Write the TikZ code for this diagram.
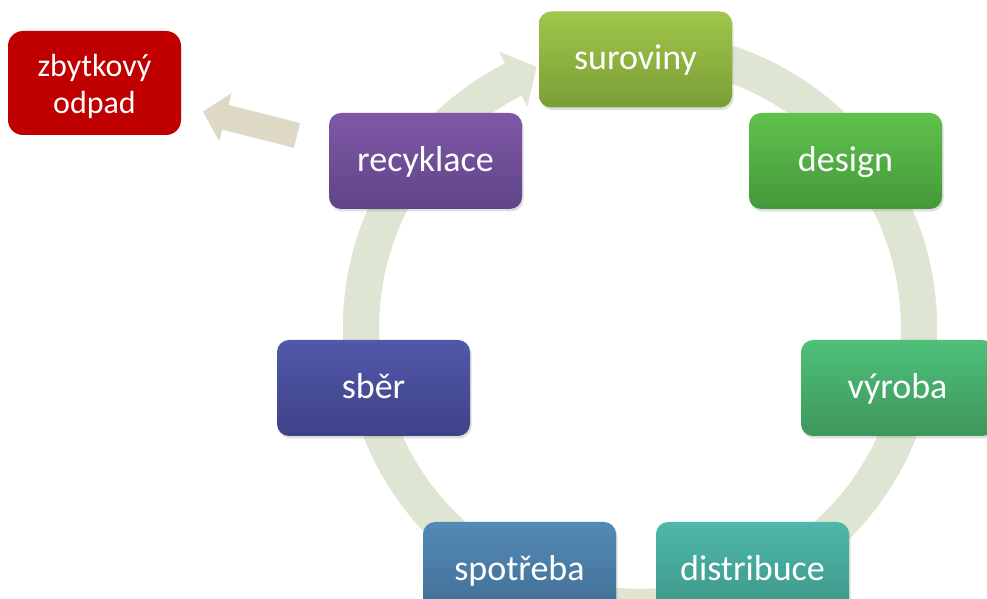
\documentclass[tikz,border=0pt]{standalone}
\usepackage{fontspec}
\setmainfont{Carlito}
\usetikzlibrary{shadows,calc}
\definecolor{ringc}{RGB}{222,230,211}
\definecolor{tanc}{RGB}{221,217,196}
\definecolor{redc}{RGB}{192,0,0}
\definecolor{surT}{RGB}{160,198,74}
\definecolor{surB}{RGB}{122,158,54}
\definecolor{desT}{RGB}{96,194,76}
\definecolor{desB}{RGB}{68,152,58}
\definecolor{vyrT}{RGB}{78,192,122}
\definecolor{vyrB}{RGB}{62,150,92}
\definecolor{disT}{RGB}{78,184,170}
\definecolor{disB}{RGB}{60,148,134}
\definecolor{spoT}{RGB}{82,138,182}
\definecolor{spoB}{RGB}{66,108,148}
\definecolor{sbeT}{RGB}{82,88,170}
\definecolor{sbeB}{RGB}{62,66,136}
\definecolor{recT}{RGB}{126,88,166}
\definecolor{recB}{RGB}{96,68,136}
\begin{document}
\begin{tikzpicture}[x=1pt,y=1pt,
  stagebox/.style={rounded corners=12pt, minimum width=193pt, minimum height=96pt,
    inner sep=0pt, text=white, font=\fontsize{36}{40}\selectfont,
    text height=26pt, text depth=5pt,
    drop shadow={shadow xshift=1.5pt, shadow yshift=-2.5pt, opacity=0.25}},
  grad/.style 2 args={top color=#1, bottom color=#2}]
\useasboundingbox (0,0) rectangle (987,599);
\clip (0,0) rectangle (987,599);
\fill[white] (0,0) rectangle (987,599);
% ring
\coordinate (C) at (640,271);
\draw[black, opacity=0.08, line width=36pt, shift={(1.5,-2)}] (C) ++(90:279) arc[start angle=90, end angle=-243, radius=279];
\draw[ringc, line width=36pt] (C) ++(90:279) arc[start angle=90, end angle=-243, radius=279];
\fill[ringc] ($(C)+(117:248)$) -- ($(C)+(111.6:281)$) -- ($(C)+(117:310)$) -- cycle;
% boxes
\node[stagebox, grad={surT}{surB}] (sur) at (635.5,539.5) {suroviny};
\node[stagebox, grad={desT}{desB}] (des) at (845.5,438) {design};
\node[stagebox, grad={vyrT}{vyrB}] (vyr) at (897.5,211) {výroba};
\node[stagebox, grad={disT}{disB}] (dis) at (752.5,29) {distribuce};
\node[stagebox, grad={spoT}{spoB}] (spo) at (519.5,29) {spotřeba};
\node[stagebox, grad={sbeT}{sbeB}] (sbe) at (373.5,211) {sběr};
\node[stagebox, grad={recT}{recB}] (rec) at (425.5,438) {recyklace};
\node[fill=redc, rounded corners=15pt, minimum width=173pt, minimum height=104pt,
  inner sep=0pt,
  label={[text=white, align=center, font=\fontsize{32}{37}\selectfont, yshift=-3pt]center:zbytkový\\odpad}] (odp) at (94.5,516) {};
% tan arrow
\fill[tanc, shift={(297,463.5)}, rotate=165.7]
  (0,-12.75) -- (74,-12.75) -- (74,-24.75) -- (97,0) -- (74,24.75) -- (74,12.75) -- (0,12.75) -- cycle;
\end{tikzpicture}
\end{document}
